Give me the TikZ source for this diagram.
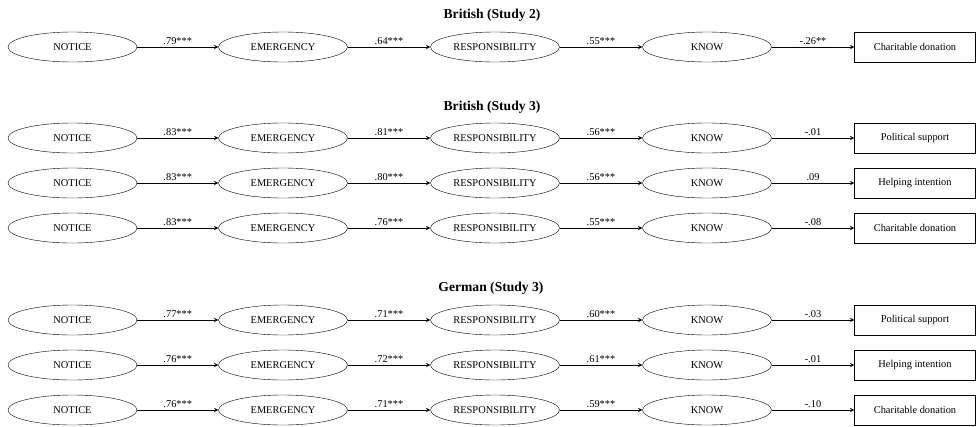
\documentclass[tikz,border=0pt]{standalone}
\usepackage{fontspec}
\setmainfont{Liberation Serif}
\usepackage{tikz}
\usetikzlibrary{positioning}
\usetikzlibrary{arrows,shapes}

\tikzset{
  latent/.style={draw, ellipse, minimum width=129pt, minimum height=30pt, inner sep=0pt, font=\fontsize{10.4}{12}\selectfont},
  outcome/.style={draw, rectangle, minimum width=121pt, minimum height=30pt, inner sep=0pt, font=\fontsize{10.4}{12}\selectfont},
  path/.style={-stealth, line width=0.9pt},
  coef/.style={above, inner sep=2pt, font=\fontsize{10.4}{12}\selectfont},
  grouptitle/.style={font=\bfseries\fontsize{13.6}{15}\selectfont}
}

\begin{document}
\begin{tikzpicture}[x=1pt, y=-1pt]

\useasboundingbox (0,0) rectangle (976,426);

% group titles
\node[grouptitle] (t1) at (492, 15) {British (Study 2)};
\node[grouptitle] (t2) at (492,107) {British (Study 3)};
\node[grouptitle] (t3) at (491,288) {German (Study 3)};

% one row per model
\foreach \r/\y/\a/\b/\c/\d/\out in {
    1/47/.79***/.64***/.55***/-.26**/Charitable donation,
    2/138/.83***/.81***/.56***/-.01/Political support,
    3/183/.83***/.80***/.56***/.09/Helping intention,
    4/228/.83***/.76***/.55***/-.08/Charitable donation,
    5/320/.77***/.71***/.60***/-.03/Political support,
    6/365/.76***/.72***/.61***/-.01/Helping intention,
    7/410/.76***/.71***/.59***/-.10/Charitable donation}
{
  \node[latent] (notice\r) at (72.5,\y) {NOTICE};
  \node[latent] (emerg\r) at (283,\y) {EMERGENCY};
  \node[latent] (resp\r) at (495,\y) {RESPONSIBILITY};
  \node[latent] (know\r) at (707,\y) {KNOW};
  \node[outcome] (out\r) at (915,\y) {\out};

  \draw[path] (notice\r) -- node[coef] {\a} (emerg\r);
  \draw[path] (emerg\r) -- node[coef] {\b} (resp\r);
  \draw[path] (resp\r) -- node[coef] {\c} (know\r);
  \draw[path] (know\r) -- node[coef] {\d} (out\r);
}

\end{tikzpicture}
\end{document}
